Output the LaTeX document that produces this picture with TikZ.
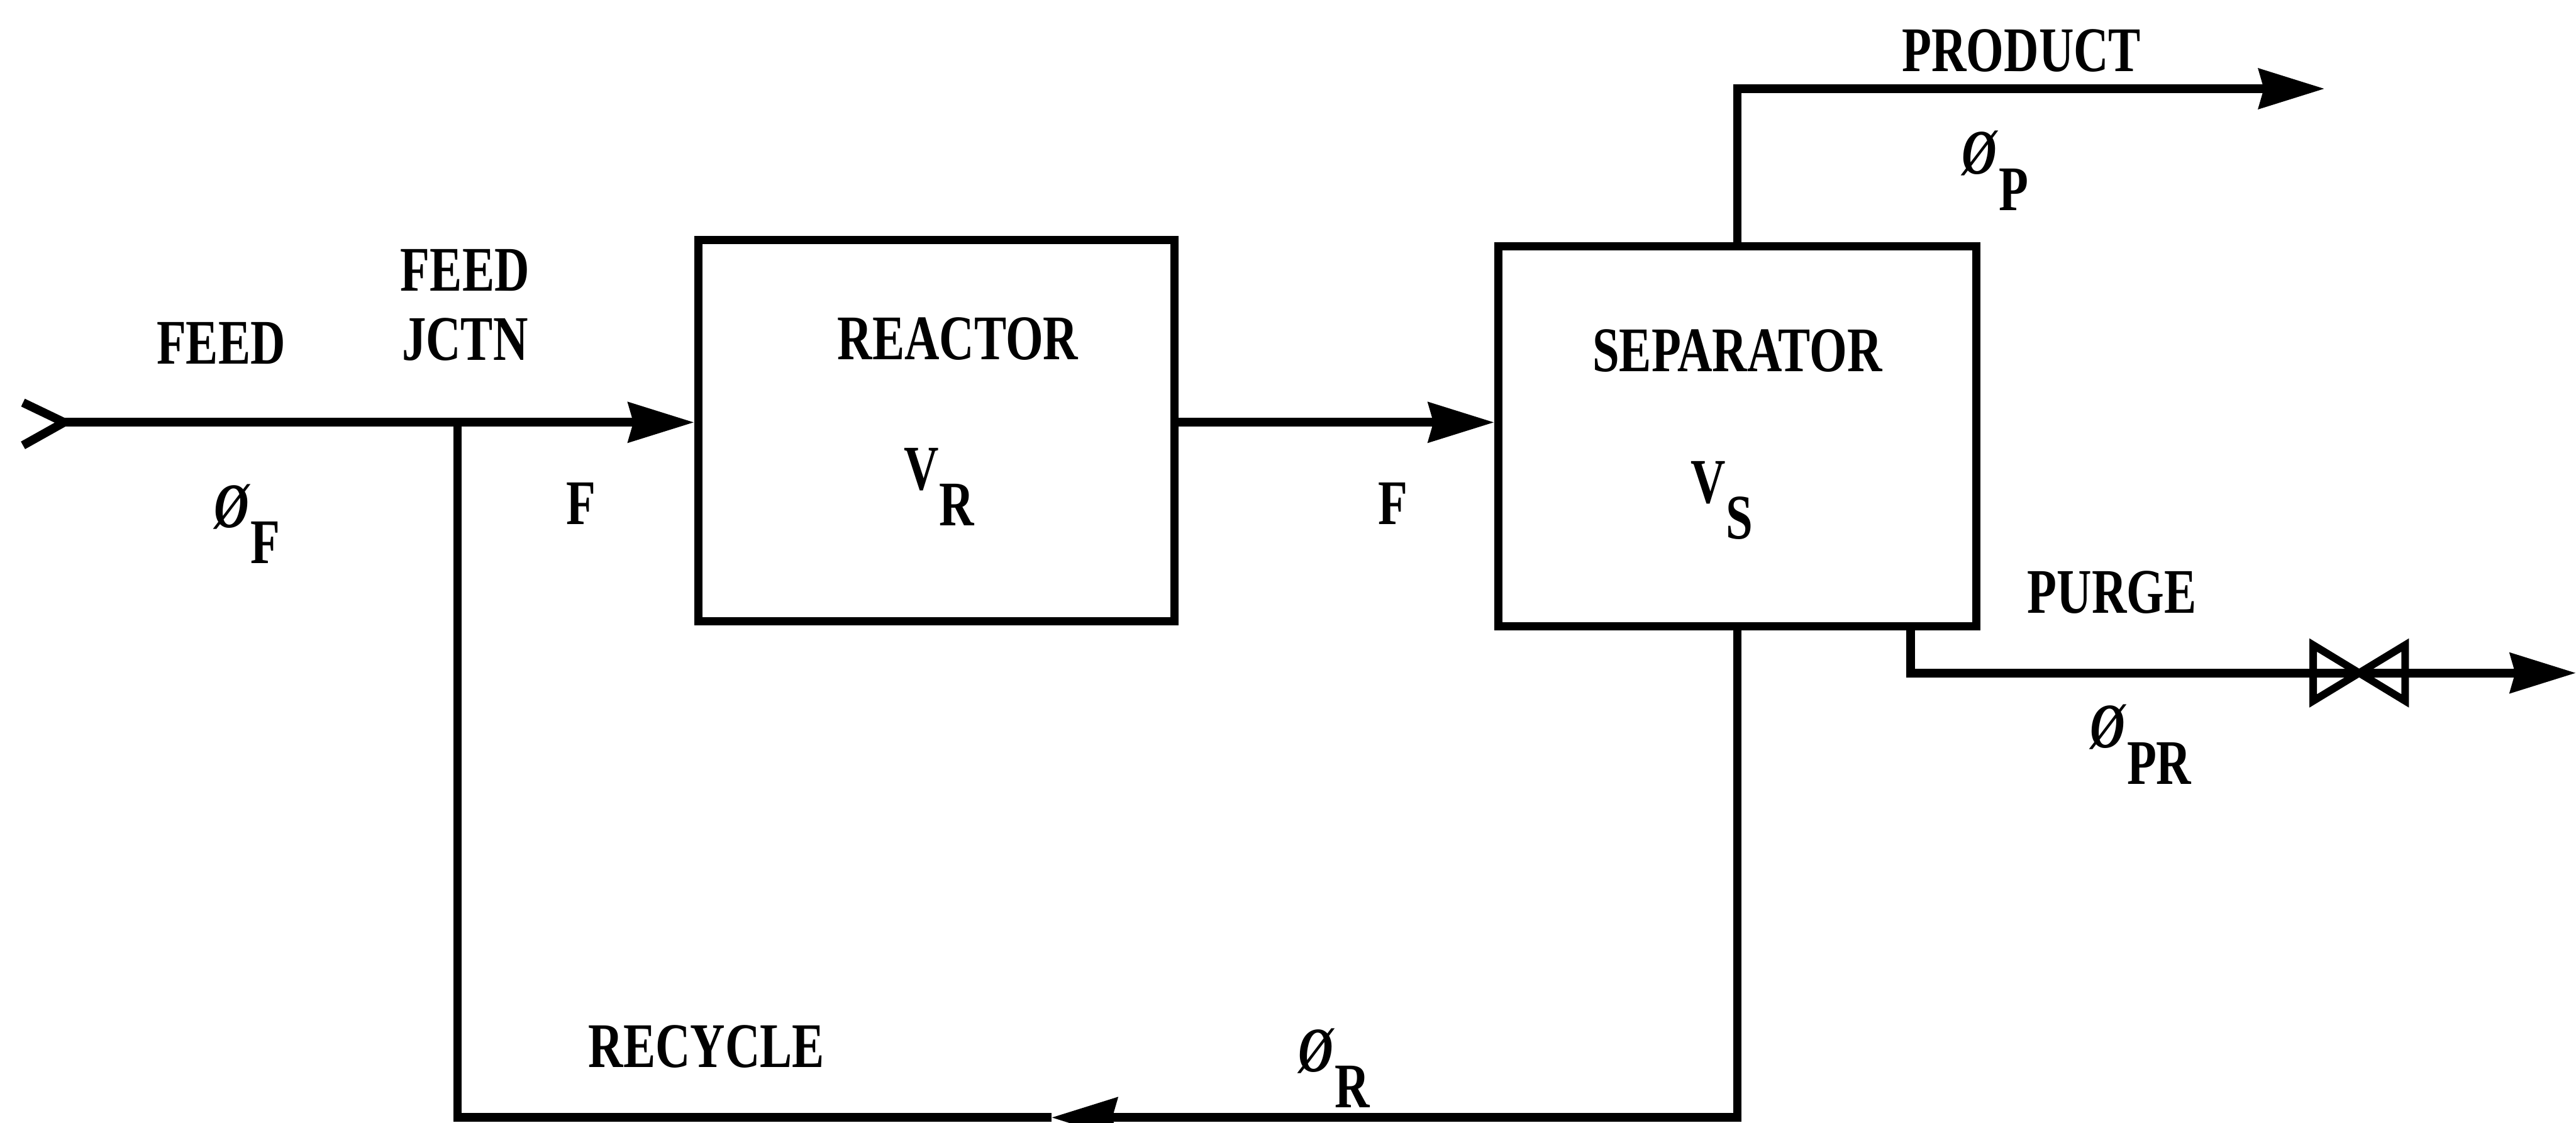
\documentclass[tikz,border=0pt]{standalone}
\usepackage{fontspec}
\setmainfont{Liberation Serif}[FakeStretch=0.76]
\usetikzlibrary{arrows.meta, positioning}

\newcommand{\flw}[1]{\textit{Ø}\raisebox{-0.44cm}{#1}}
\newcommand{\vol}[1]{V\raisebox{-0.44cm}{#1}}

\begin{document}
\begin{tikzpicture}[
  unit/.style={rectangle, draw, line width=2.8pt, minimum width=5.8cm, minimum height=4.64cm},
  flow/.style={line width=3pt},
  tip/.style={-{Stealth[length=8mm, width=4.8mm, inset=0.6mm]}},
  lbl/.style={inner sep=0pt, font=\fontsize{22}{24}\selectfont\bfseries}
]
\useasboundingbox (0,0) rectangle (31.36,13.66);

% Units
\node[unit] (reactor) at (11.40,8.42) {};
\node[unit, minimum width=5.82cm, minimum height=4.62cm] (separator) at (21.15,8.35) {};

% Stream points
\coordinate (feedin) at (0.78,8.52);
\coordinate (jctn) at (5.57,8.52);
\coordinate (produp) at (21.15,12.58);
\coordinate (prodout) at (28.3,12.58);
\coordinate (purgetop) at (23.26,6.04);
\coordinate (purgedn) at (23.26,5.47);
\coordinate (valve) at (28.72,5.47);
\coordinate (purgeout) at (31.36,5.47);
\coordinate (rcright) at (21.15,0.06);
\coordinate (rcmid) at (12.8,0.06);
\coordinate (rcleft) at (5.57,0.06);

% Streams
\draw[flow, line join=round] (feedin) ++(-0.5,0.24) -- (feedin) -- ++(-0.5,-0.28);
\draw[flow, tip] (feedin) -- (jctn) -- (reactor.west |- jctn);
\draw[flow, tip] (reactor.east |- jctn) -- (separator.west |- jctn);
\draw[flow, tip] (separator.north) -- (produp) -- (prodout);
\draw[flow, tip] (purgetop) -- (purgedn) -- (purgeout);
\draw[line width=2.6pt] (valve) ++(-0.56,0.34) -- ++(1.12,-0.68) -- ++(0,0.68) -- ++(-1.12,-0.68) -- cycle;
\draw[flow, tip] (separator.south) -- (rcright) -- (rcmid);
\draw[flow] (rcmid) -- (rcleft) -- (jctn);

% Labels
\node[lbl] (feedlbl) at (2.69,9.48) {FEED};
\node[lbl, align=center] (jctnlbl) at (5.66,9.95) {FEED\\JCTN};
\node[lbl, anchor=base west] (phif) at (2.6,7.24) {\flw{F}};
\node[lbl] (fin) at (7.07,7.53) {F};
\node[lbl] (reactorlbl) at (11.66,9.54) {REACTOR};
\node[lbl, anchor=base west] (volr) at (11.0,7.7) {\vol{R}};
\node[lbl] (fout) at (16.96,7.53) {F};
\node[lbl] (separatorlbl) at (21.15,9.39) {SEPARATOR};
\node[lbl, anchor=base west] (vols) at (20.58,7.54) {\vol{S}};
\node[lbl] (productlbl) at (24.61,13.04) {PRODUCT};
\node[lbl, anchor=base west] (phip) at (23.88,11.54) {\flw{P}};
\node[lbl] (purgelbl) at (25.71,6.45) {PURGE};
\node[lbl, anchor=base west] (phipr) at (25.44,4.56) {\flw{PR}};
\node[lbl] (recyclelbl) at (8.6,0.92) {RECYCLE};
\node[lbl, anchor=base west] (phir) at (15.8,0.62) {\flw{R}};

\end{tikzpicture}
\end{document}
